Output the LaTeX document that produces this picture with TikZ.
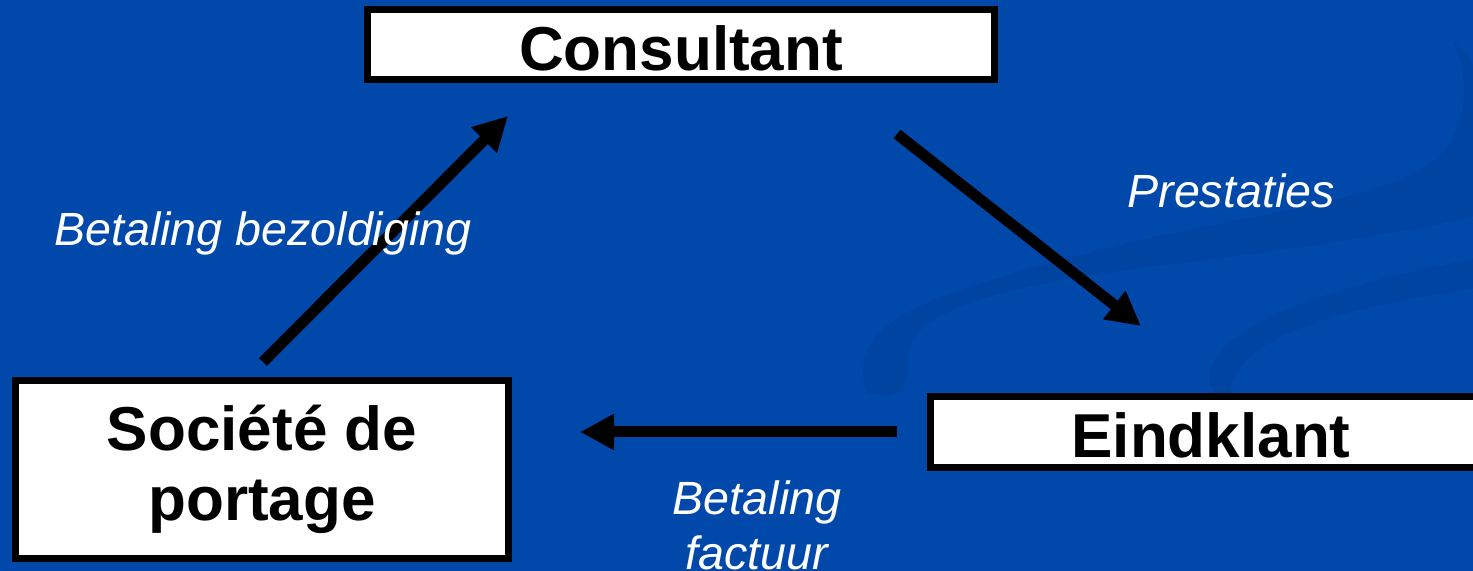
\documentclass[tikz,border=0pt]{standalone}
\usepackage{fontspec}
\setmainfont{Liberation Sans}
\usetikzlibrary{arrows.meta}
\definecolor{slidebg}{RGB}{0,73,171}
\definecolor{swirl}{RGB}{0,68,162}
\begin{document}
\begin{tikzpicture}[x=0.5pt,y=-0.5pt,
  box/.style={draw=black, fill=white, line width=3.5pt, inner sep=0pt,
    font=\fontsize{31}{35}\selectfont\bfseries, align=center},
  oneline/.style={text height=26pt, text depth=0pt},
  flow/.style={line width=5.5pt, -{Triangle[length=17pt,width=17pt]}},
  lbl/.style={text=white, inner sep=0pt, align=center,
    font=\fontsize{23.3}{27.5}\selectfont\itshape}]
% canvas
\useasboundingbox (0,0) rectangle (1473,571);
\clip (0,0) rectangle (1473,571);
\fill[slidebg] (0,0) rectangle (1473,571);

% faint background swirls
\fill[swirl] (866,392) .. controls (846,320) and (920,295) .. (1140,240)
  .. controls (1300,205) and (1420,195) .. (1452,140)
  .. controls (1470,105) and (1466,65) .. (1452,40)
  .. controls (1500,80) and (1500,180) .. (1480,215)
  .. controls (1400,235) and (1250,255) .. (1140,268)
  .. controls (960,292) and (905,322) .. (908,360)
  .. controls (910,385) and (900,405) .. cycle;
\fill[swirl] (1236,418) .. controls (1160,360) and (1250,300) .. (1480,258)
  -- (1480,288) .. controls (1320,310) and (1205,345) .. cycle;

% parties
\node[box, oneline, minimum width=313.5pt, minimum height=35pt] (cons) at (681,44.5) {Consultant};
\node[box, minimum width=246.5pt, minimum height=89pt] (soc) at (262,469.5) {Société de\\portage};
\node[box, oneline, minimum width=280.5pt, minimum height=35.5pt] (eind) at (1211,432) {Eindklant};

% arrow ends
\coordinate (a1s) at (263,362);
\coordinate (a1e) at (508,116);
\coordinate (a2s) at (897,134);
\coordinate (a2e) at (1141,326);
\coordinate (a3s) at (897,432);
\coordinate (a3e) at (580,432);

\draw[flow] (a1s) -- (a1e);
\draw[flow] (a2s) -- (a2e);
\draw[flow] (a3s) -- (a3e);

% flow labels
\node[lbl, anchor=base] (l1) at (263,246) {Betaling bezoldiging};
\node[lbl, anchor=base] (l2) at (1231,208) {Prestaties};
\node[lbl, anchor=north] (l3) at (757,480) {Betaling\\factuur};
\end{tikzpicture}
\end{document}
